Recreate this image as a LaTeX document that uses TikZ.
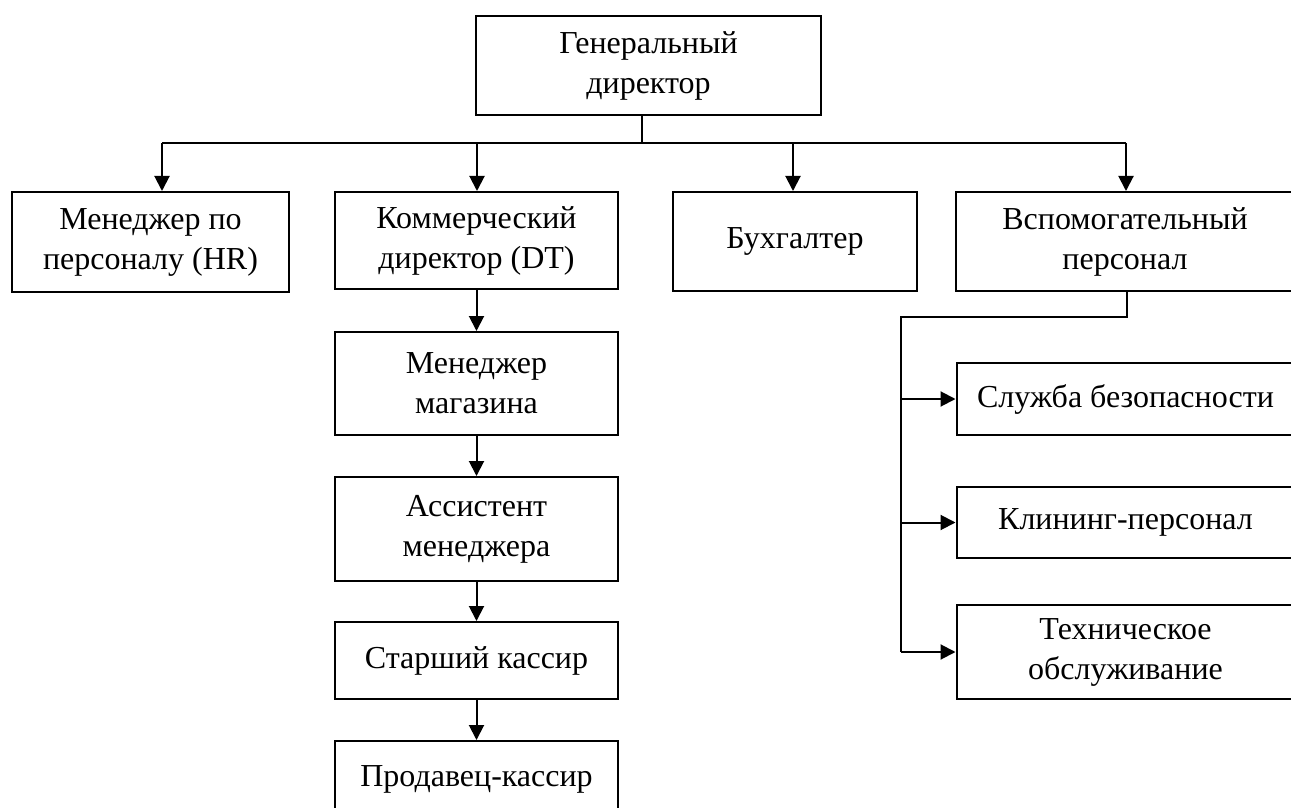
\documentclass[tikz,border=0pt]{standalone}
\usepackage{fontspec}
\setmainfont{Liberation Serif}
\usetikzlibrary{arrows.meta}
\begin{document}
\begin{tikzpicture}[x=0.5pt,y=-0.5pt,
  box/.style={draw, line width=1pt, align=center, inner sep=0pt,
    font=\fontsize{16pt}{20pt}\selectfont},
  conn/.style={line width=1pt},
  arr/.style={line width=1pt, -{Triangle[length=7.5pt,width=7.5pt]}}]
\useasboundingbox (0,0) rectangle (1291,808);
% boxes
\node[box, minimum width=172.5pt, minimum height=49.5pt] (gd) at (648.5,65.5) {Генеральный\\директор};
\node[box, minimum width=138.5pt, minimum height=50pt] (hr) at (150.5,242) {Менеджер по\\персоналу (HR)};
\node[box, minimum width=141.5pt, minimum height=48.5pt] (com) at (476.5,240.5) {Коммерческий\\директор (DT)};
\node[box, minimum width=122pt, minimum height=49.5pt] (buh) at (795,241.5) {Бухгалтер};
\node[box, minimum width=169pt, minimum height=49.5pt] (vsp) at (1125,241.5) {Вспомогательный\\персонал};
\node[box, minimum width=141.5pt, minimum height=51.5pt] (mag) at (476.5,383.5) {Менеджер\\магазина};
\node[box, minimum width=141.5pt, minimum height=52pt] (asst) at (476.5,529) {Ассистент\\менеджера};
\node[box, minimum width=141.5pt, minimum height=38.5pt] (star) at (476.5,660.5) {Старший кассир};
\node[box, minimum width=141.5pt, minimum height=38.5pt] (prod) at (476.5,779.5) {Продавец-кассир};
\node[box, minimum width=169pt, minimum height=36pt] (sb) at (1125.5,399) {Служба безопасности};
\node[box, minimum width=169pt, minimum height=35.5pt] (kl) at (1125.5,522.5) {Клининг-персонал};
\node[box, minimum width=169pt, minimum height=47pt] (teh) at (1125.5,652) {Техническое\\обслуживание};
% top bus
\coordinate (bm) at (642,143);
\coordinate (b1) at (162,143);
\coordinate (b2) at (477,143);
\coordinate (b3) at (793,143);
\coordinate (b4) at (1126,143);
\draw[conn] (bm |- gd.south) -- (bm);
\draw[conn] (b1) -- (b4);
\draw[arr] (b1) -- (b1 |- hr.north);
\draw[arr] (b2) -- (b2 |- com.north);
\draw[arr] (b3) -- (b3 |- buh.north);
\draw[arr] (b4) -- (b4 |- vsp.north);
% left chain
\draw[arr] (com) ++(0,48.5) coordinate (c1) -- (c1 |- mag.north);
\draw[arr] (mag.south) -- (asst.north);
\draw[arr] (asst.south) -- (star.north);
\draw[arr] (star.south) -- (prod.north);
% right branch
\coordinate (v1) at (1127,317);
\coordinate (v2) at (901,317);
\coordinate (v3) at (901,652);
\draw[conn] (v1 |- vsp.south) -- (v1) -- (v2) -- (v3);
\draw[arr] (v2 |- sb.west) -- (sb.west);
\draw[arr] (v2 |- kl.west) -- (kl.west);
\draw[arr] (v2 |- teh.west) -- (teh.west);
\end{tikzpicture}
\end{document}
